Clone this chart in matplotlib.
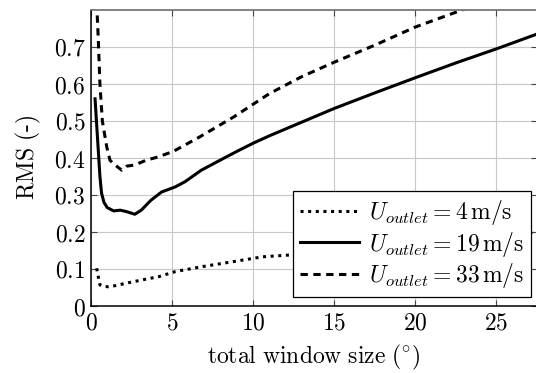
import numpy as np
import matplotlib
matplotlib.use("Agg")
import matplotlib.pyplot as plt
from matplotlib.ticker import FuncFormatter

plt.rcParams['mathtext.fontset'] = 'cm'
plt.rcParams['font.family'] = 'serif'
plt.rcParams['font.serif'] = ['DejaVu Serif']

# U_outlet = 4 m/s
x_4 = [0.35, 0.45, 0.55, 0.8, 1.07, 1.5, 2.1, 3.1, 4.15, 5.2, 6.8, 8.5, 10.6, 12.3, 15, 20, 27.5]
y_4 = [0.102, 0.079, 0.057, 0.053, 0.052, 0.055, 0.061, 0.070, 0.079, 0.093, 0.106, 0.118, 0.133, 0.138, 0.150, 0.170, 0.200]

# U_outlet = 19 m/s
x_19 = [0.25, 0.35, 0.45, 0.55, 0.65, 0.8, 1.0, 1.4, 1.8, 2.2, 2.7, 3.1, 3.7, 4.35, 5.2, 5.8, 6.8,
        8, 9, 10, 11, 13, 15, 17.5, 20, 22.5, 25, 27.5]
y_19 = [0.56, 0.49, 0.42, 0.35, 0.305, 0.28, 0.266, 0.257, 0.259, 0.255, 0.248, 0.259, 0.286, 0.308,
        0.322, 0.336, 0.367, 0.395, 0.418, 0.44, 0.46, 0.497, 0.534, 0.576, 0.617, 0.657, 0.695, 0.735]

# U_outlet = 33 m/s
x_33 = [0.35, 0.45, 0.55, 0.7, 0.76, 0.97, 1.17, 1.37, 1.9, 2.2, 2.7, 3.4, 4.15, 4.7, 5.0, 6.7, 8.8,
        11, 13, 15, 17.5, 20, 22, 23.5, 27.5]
y_33 = [0.82, 0.72, 0.60, 0.50, 0.484, 0.43, 0.394, 0.385, 0.367, 0.378, 0.381, 0.394, 0.403, 0.412,
        0.416, 0.457, 0.511, 0.574, 0.62, 0.659, 0.705, 0.754, 0.786, 0.81, 0.88]

fig = plt.figure(figsize=(5.36, 3.73), dpi=100)
ax = fig.add_axes([91/536, 1-306/373, 446/536, 296/373])

ax.grid(True, color='#c8c8c8', linewidth=0.8)
ax.set_axisbelow(True)

ax.plot(x_4, y_4, color='black', lw=2.2, linestyle=(0, (1, 1.5)), label=r'$U_{outlet} = 4\,\mathrm{m/s}$')
ax.plot(x_19, y_19, color='black', lw=2.2, label=r'$U_{outlet} = 19\,\mathrm{m/s}$')
ax.plot(x_33, y_33, color='black', lw=2.2, linestyle=(0, (2.4, 1.8)), label=r'$U_{outlet} = 33\,\mathrm{m/s}$')

ax.set_xlim(0, 27.5)
ax.set_ylim(0, 0.8)
ax.set_xticks([0, 5, 10, 15, 20, 25])
ax.set_yticks([0, 0.1, 0.2, 0.3, 0.4, 0.5, 0.6, 0.7])
ax.xaxis.set_major_formatter(FuncFormatter(lambda v, p: r'$%g$' % v))
ax.yaxis.set_major_formatter(FuncFormatter(lambda v, p: r'$%g$' % round(v, 2)))
ax.tick_params(direction='in', length=4, width=0.8, color='#444444', labelsize=17,
               top=True, right=True, pad=4)

ax.spines['left'].set_linewidth(1.1)
ax.spines['bottom'].set_linewidth(1.1)
ax.spines['top'].set_color('#777777')
ax.spines['top'].set_linewidth(1.3)
ax.spines['right'].set_color('#777777')

ax.set_xlabel(r'$\mathrm{total\ window\ size\ (^{\circ})}$', fontsize=17, labelpad=6)
ax.set_ylabel(r'$\mathrm{RMS\ (\text{-})}$', fontsize=17, labelpad=8)

leg = ax.legend(loc='lower right', bbox_to_anchor=(0.987, 0.03), fontsize=17, fancybox=False,
                edgecolor='black', framealpha=1, handlelength=2.5, handletextpad=0.4,
                borderpad=0.3, labelspacing=0.1, borderaxespad=0)
leg.get_frame().set_linewidth(0.9)

fig.savefig('out.png', dpi=100)
